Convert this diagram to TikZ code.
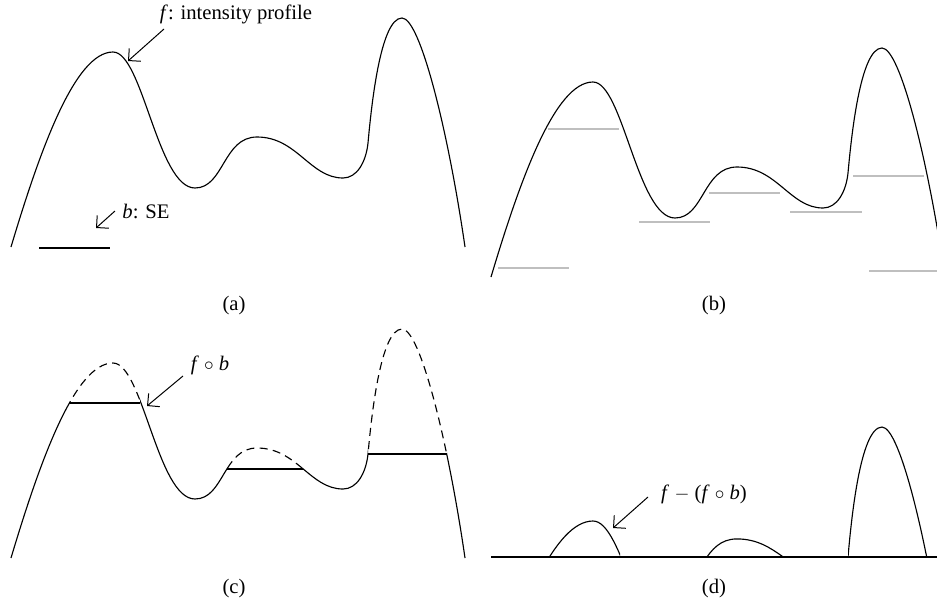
\documentclass[tikz,border=0pt]{standalone}
\usepackage{fontspec}
\setmainfont{Liberation Serif}
\usetikzlibrary{arrows.meta}
\begin{document}
\begin{tikzpicture}[x=0.75pt,y=-0.75pt,
  curve/.style={line width=0.85pt, line join=round},
  dashcurve/.style={line width=0.85pt, dash pattern=on 6pt off 4pt},
  arr/.style={line width=0.75pt,-{Straight Barb[length=6.5pt,width=13pt]}},
  lbl/.style={inner sep=0pt, font=\fontsize{15.5}{18}\selectfont},
  selevel/.style={line width=1pt, black!25},
  flat/.style={line width=0.9pt}]
\useasboundingbox (0,0) rectangle (937,604);
\def\fpath{(11,247) .. controls (40,150) and (75,52) .. (113,52) .. controls (142.6,52) and (157.7,188) .. (195,188) .. controls (224,188) and (223,137) .. (257,137) .. controls (297,137) and (310,178) .. (343,178) .. controls (357,178) and (366,162) .. (368,143) .. controls (371,110) and (380,18) .. (402,18) .. controls (420,18) and (448,130) .. (465,247)}
% ---------- (a)
\draw[curve] \fpath;
\draw[flat] (39,248) -- (110,248);
\node[lbl] (lf) at (236,14) {\textit{f}: intensity profile};
\coordinate (lfa) at (164,29);
\coordinate (lfb) at (128,61);
\draw[arr] (lfa) -- (lfb);
\node[lbl] (lb) at (146,211) {\textit{b}: SE};
\coordinate (lba) at (115,211);
\coordinate (lbb) at (96,228);
\draw[arr] (lba) -- (lbb);
\node[lbl] (capa) at (234,306) {(a)};
% ---------- (b)
\begin{scope}
  \clip (480,0) rectangle (937,604);
  \begin{scope}[shift={(480,30)}]
    \draw[curve] \fpath;
  \end{scope}
\end{scope}
\draw[selevel] (498,268) -- (569,268);
\draw[selevel] (548,129) -- (619,129);
\draw[selevel] (639,222) -- (710,222);
\draw[selevel] (709,193) -- (780,193);
\draw[selevel] (790,212) -- (862,212);
\draw[selevel] (853,176) -- (924,176);
\draw[selevel] (869,271) -- (937,271);
\node[lbl] (capb) at (714,306) {(b)};
% ---------- (c)
\begin{scope}[shift={(0,311)}]
  \begin{scope}
    \clip (69,0) rectangle (140,92) (227,0) rectangle (303,158) (368,0) rectangle (447,143);
    \draw[dashcurve] \fpath;
  \end{scope}
  \begin{scope}[even odd rule]
    \clip (0,-40) rectangle (470,270) (69,0) rectangle (140,92) (227,0) rectangle (303,158) (368,0) rectangle (447,143);
    \draw[curve] \fpath;
  \end{scope}
  \draw[flat] (69,92) -- (140,92);
  \draw[flat] (227,158) -- (303,158);
  \draw[flat] (368,143) -- (447,143);
\end{scope}
\node[lbl] (lc) at (210,365) {\textit{f} $\circ$ \textit{b}};
\coordinate (lca) at (183,376);
\coordinate (lcb) at (147,406);
\draw[arr] (lca) -- (lcb);
\node[lbl] (capc) at (234,589) {(c)};
% ---------- (d)
\draw[flat] (491,557) -- (937,557);
\begin{scope}[shift={(480,474.2)}, yscale=0.9]
  \clip (69,0) rectangle (140,92);
  \draw[curve] \fpath;
\end{scope}
\begin{scope}[shift={(480,421.1)}, yscale=0.86]
  \clip (227,0) rectangle (303,158);
  \draw[curve] \fpath;
\end{scope}
\begin{scope}[shift={(480,408.3)}, yscale=1.04]
  \clip (368,0) rectangle (447,143);
  \draw[curve] \fpath;
\end{scope}
\node[lbl] (ld) at (704,494) {\textit{f} $-$ (\textit{f} $\circ$ \textit{b})};
\coordinate (lda) at (648,497);
\coordinate (ldb) at (613,528);
\draw[arr] (lda) -- (ldb);
\node[lbl] (capd) at (714,589) {(d)};
\end{tikzpicture}
\end{document}
